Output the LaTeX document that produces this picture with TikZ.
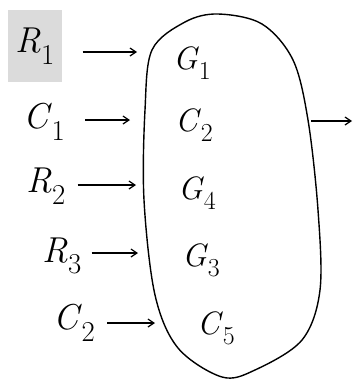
\documentclass[tikz,border=0pt]{standalone}
\usetikzlibrary{arrows.meta}
\newcommand{\lbl}[2]{\textit{#1}\raisebox{-0.32em}{\scalebox{0.8}{#2}}}
\newcommand{\smlbl}[2]{\scalebox{0.9}{\lbl{#1}{#2}}}
\begin{document}
\begin{tikzpicture}[x=1pt,y=-1pt,
  outerlbl/.style={font=\fontsize{36}{40}\selectfont, inner sep=0pt},
  innerlbl/.style={font=\fontsize{36}{40}\selectfont, inner sep=0pt},
  arr/.style={->, line width=1.2pt, >={Straight Barb[length=6pt,width=8pt]}},
  blobline/.style={line width=1.4pt}]
\useasboundingbox (0,0) rectangle (354,380);
\fill[gray!28] (8,10) rectangle (62,82);
% left labels
\node[outerlbl] (l1) at (35,46) {\lbl{R}{1}};
\node[outerlbl] (l2) at (44,122) {\lbl{C}{1}};
\node[outerlbl] (l3) at (46,186) {\lbl{R}{2}};
\node[outerlbl] (l4) at (62,256) {\lbl{R}{3}};
\node[outerlbl] (l5) at (74,323) {\lbl{C}{2}};
% inner labels
\node[innerlbl] (g1) at (192,63) {\smlbl{G}{1}};
\node[innerlbl] (g2) at (194,125) {\smlbl{C}{2}};
\node[innerlbl] (g3) at (197,193) {\smlbl{G}{4}};
\node[innerlbl] (g4) at (201,260) {\smlbl{G}{3}};
\node[innerlbl] (g5) at (216,328) {\smlbl{C}{5}};
% blob
\draw[blobline] plot[smooth cycle, tension=0.55] coordinates {
  (218,14) (262,24) (293,60) (308,120) (318,210) (320,290) (302,340)
  (255,370) (222,377) (178,348) (155,295) (144,200) (145,110) (152,50) (185,22)};
% arrow end points
\coordinate (e1) at (137,52);
\coordinate (e2) at (130,120);
\coordinate (e3) at (136,185);
\coordinate (e4) at (138,253);
\coordinate (e5) at (155,323);
\coordinate (os) at (311,121);
\coordinate (oe) at (352,121);
\draw[arr] (l1.east |- e1) ++(28,0) -- (e1);
\draw[arr] (l2.east |- e2) ++(20,0) -- (e2);
\draw[arr] (l3.east |- e3) ++(12,0) -- (e3);
\draw[arr] (l4.east |- e4) ++(10,0) -- (e4);
\draw[arr] (l5.east |- e5) ++(12,0) -- (e5);
\draw[arr] (os) -- (oe);
\end{tikzpicture}
\end{document}
